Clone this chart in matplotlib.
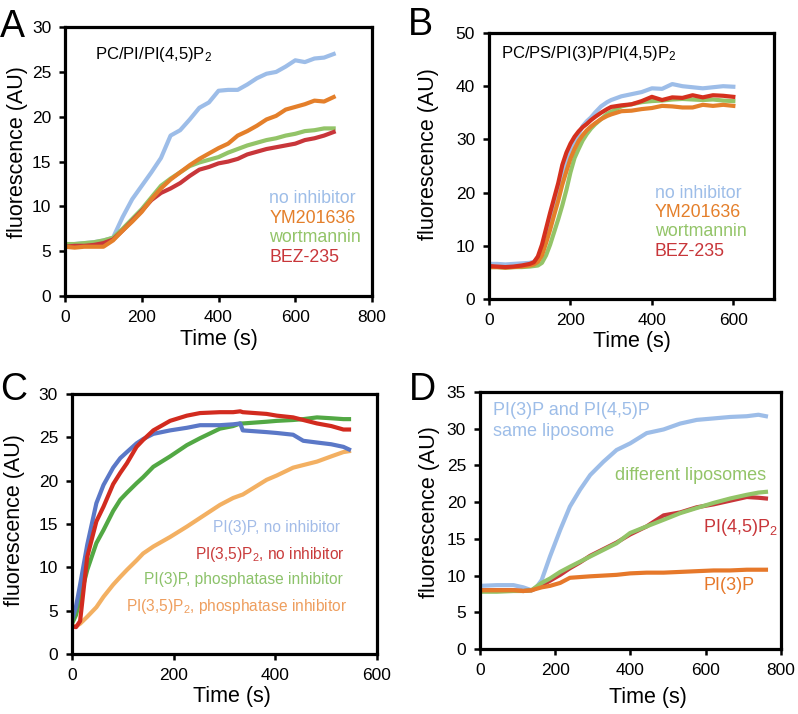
import matplotlib
matplotlib.use("Agg")
import matplotlib.pyplot as plt

plt.rcParams['font.family'] = ['Liberation Sans', 'DejaVu Sans']
plt.rcParams['mathtext.fontset'] = 'custom'
plt.rcParams['mathtext.rm'] = 'Liberation Sans'
plt.rcParams['mathtext.it'] = 'Liberation Sans:italic'
plt.rcParams['mathtext.bf'] = 'Liberation Sans:bold'

# ---------------- Panel A ----------------
a_time = [0, 25, 50, 75, 100, 125, 150, 175, 200, 225, 250, 275, 300, 325, 350,
          375, 400, 425, 450, 475, 500, 525, 550, 575, 600, 625, 650, 675, 700]
a_no_inhibitor = [5.7, 5.8, 5.9, 6.0, 6.2, 6.5, 8.8, 10.8, 12.3, 13.8, 15.4, 17.9, 18.5, 19.7, 21.0,
                  21.6, 22.9, 23.0, 23.0, 23.6, 24.3, 24.8, 25.0, 25.6, 26.3, 26.1, 26.5, 26.6, 27.0]
a_ym201636 = [5.5, 5.4, 5.5, 5.5, 5.5, 6.2, 7.3, 8.3, 9.4, 10.8, 12.0, 13.0, 13.8, 14.6, 15.3,
              15.9, 16.5, 17.0, 17.9, 18.4, 19.0, 19.7, 20.1, 20.8, 21.1, 21.4, 21.8, 21.7, 22.2]
a_wortmannin = [5.8, 5.8, 5.9, 6.0, 6.2, 6.5, 7.5, 8.6, 9.7, 11.0, 12.3, 13.1, 13.8, 14.5, 14.9,
                15.2, 15.5, 16.0, 16.4, 16.8, 17.1, 17.4, 17.6, 17.9, 18.1, 18.4, 18.5, 18.7, 18.7]
a_bez235 = [5.5, 5.6, 5.6, 5.7, 5.9, 6.3, 7.3, 8.4, 9.5, 10.7, 11.5, 12.0, 12.6, 13.4, 14.1,
            14.4, 14.8, 15.0, 15.3, 15.8, 16.1, 16.4, 16.6, 16.8, 17.0, 17.4, 17.6, 17.9, 18.3]

# ---------------- Panel B ----------------
b_time = [0, 20, 40, 60, 80, 100, 110, 120, 130, 140, 150, 160, 170, 180, 190, 200, 210, 220,
          230, 240, 250, 260, 275, 290, 300, 325, 350, 375, 400, 425, 450, 475, 500, 525,
          550, 575, 600]
b_no_inhibitor = [6.6, 6.6, 6.5, 6.6, 6.7, 6.8, 7.0, 7.5, 9.0, 11.8, 14.8, 17.8, 20.5, 23.2, 25.8, 27.8, 29.5, 31.0,
                  32.5, 33.4, 34.1, 35.0, 36.2, 37.0, 37.4, 38.1, 38.5, 38.9, 39.6, 39.5, 40.4, 40.0, 39.8, 39.6,
                  39.8, 40.0, 39.9]
b_ym201636 = [6.0, 6.0, 5.9, 6.0, 6.1, 6.3, 6.5, 7.0, 8.2, 10.5, 13.0, 15.8, 18.5, 21.5, 24.0, 26.4, 28.2, 29.7,
              30.8, 31.7, 32.4, 33.0, 33.8, 34.4, 34.7, 35.3, 35.4, 35.7, 35.9, 36.3, 36.2, 36.0, 36.0, 36.5,
              36.3, 36.5, 36.3]
b_wortmannin = [6.0, 6.0, 5.9, 6.0, 6.0, 6.1, 6.2, 6.3, 6.8, 8.2, 10.2, 12.6, 15.0, 17.6, 20.5, 23.8, 26.5, 28.2,
                29.8, 31.0, 32.0, 32.8, 33.8, 34.8, 35.2, 36.2, 36.6, 37.0, 37.2, 37.3, 37.5, 37.6, 37.5, 37.4,
                37.5, 37.3, 37.2]
b_bez235 = [6.2, 6.1, 6.0, 6.1, 6.3, 6.6, 6.9, 8.0, 10.2, 13.2, 16.2, 19.0, 21.8, 25.2, 27.5, 29.2, 30.5, 31.5,
            32.3, 32.9, 33.6, 34.2, 35.0, 35.7, 36.1, 36.4, 36.6, 37.2, 38.0, 37.4, 37.9, 37.8, 38.3, 37.9,
            38.3, 38.2, 38.0]

# ---------------- Panel C ----------------
c_time = [0, 8, 16, 30, 48, 62, 81, 95, 108, 127, 140, 160, 193, 226, 252, 291, 317, 331,
          336, 383, 403, 435, 455, 482, 510, 534, 545]
c_pi3p_no_inh = [3.9, 5.5, 8.0, 12.6, 17.4, 19.5, 21.5, 22.6, 23.3, 24.3, 24.8, 25.4, 25.8, 26.1, 26.4, 26.4, 26.5, 26.6,
                 25.8, 25.6, 25.5, 25.3, 24.6, 24.4, 24.2, 23.9, 23.6]
c_pi35p2_no_inh = [3.2, 3.1, 3.8, 11.2, 15.3, 17.0, 19.6, 20.9, 22.0, 23.9, 24.7, 25.8, 26.9, 27.5, 27.8, 27.9, 27.9, 28.0,
                   27.9, 27.7, 27.5, 27.3, 27.0, 26.6, 26.3, 25.9, 25.9]
c_pi3p_phos_inh = [3.5, 4.5, 6.5, 9.7, 12.8, 14.3, 16.5, 17.8, 18.6, 19.7, 20.4, 21.6, 22.8, 24.1, 24.9, 26.0, 26.3, 26.6,
                   26.6, 26.8, 26.9, 27.0, 27.1, 27.3, 27.2, 27.1, 27.1]
c_pi35p2_phos_inh = [3.2, 3.2, 3.5, 4.3, 5.4, 6.6, 8.0, 8.9, 9.7, 10.8, 11.6, 12.4, 13.5, 14.7, 15.7, 17.2, 18.0, 18.3,
                     18.4, 20.1, 20.6, 21.5, 21.8, 22.2, 22.8, 23.3, 23.4]

# ---------------- Panel D ----------------
d_time = [0, 45, 89, 115, 137, 150, 164, 186, 213, 239, 266, 293, 328, 363, 399, 443, 488,
          532, 576, 621, 665, 709, 740, 760]
d_same_liposome = [8.6, 8.7, 8.7, 8.4, 8.0, 8.4, 9.4, 12.6, 16.2, 19.4, 21.7, 23.7, 25.5, 27.1, 28.0, 29.4, 29.9,
                   30.7, 31.2, 31.4, 31.6, 31.7, 31.9, 31.7]
d_different = [7.8, 7.8, 7.9, 7.9, 8.0, 8.5, 9.0, 9.6, 10.5, 11.2, 11.9, 12.6, 13.5, 14.4, 15.8, 16.7, 17.6,
               18.5, 19.2, 19.9, 20.5, 21.0, 21.3, 21.4]
d_pi45p2 = [8.0, 8.0, 8.0, 7.9, 8.0, 8.3, 8.7, 9.3, 10.1, 11.0, 11.8, 12.7, 13.6, 14.5, 15.6, 16.7, 18.2,
            18.6, 19.3, 19.7, 20.2, 20.7, 20.6, 20.5]
d_pi3p = [8.0, 8.0, 8.0, 7.9, 8.0, 8.2, 8.4, 8.6, 9.0, 9.7, 9.8, 9.9, 10.0, 10.1, 10.3, 10.4, 10.4,
          10.5, 10.6, 10.7, 10.7, 10.8, 10.8, 10.8]

BLUE = '#9DBDE8'
ORANGE = '#E47F2A'
GREEN = '#93C468'
RED = '#C8363A'
LW = 3.0

fig = plt.figure(figsize=(7.98, 7.14), dpi=100)


def style(ax, xlim, xticks, ylim, yticks):
    ax.set_xlim(*xlim)
    ax.set_ylim(*ylim)
    ax.set_xticks(xticks)
    ax.set_yticks(yticks)
    for s in ax.spines.values():
        s.set_linewidth(2.3)
        s.set_color('black')
    ax.tick_params(direction='out', length=4, width=1.8, labelsize=12.5, colors='black')
    ax.tick_params(axis='x', pad=6)
    ax.tick_params(axis='y', pad=6)


def labels(ax, xpos, ypos):
    ax.set_xlabel('Time (s)', fontsize=15.5, ha='center', va='center')
    ax.xaxis.set_label_coords(*xpos)
    ax.set_ylabel('fluorescence (AU)', fontsize=15.5, ha='center', va='center')
    ax.yaxis.set_label_coords(*ypos)


# Panel A
axA = fig.add_axes([0.0815, 0.5854, 0.3847, 0.3766])
axA.plot(a_time, a_no_inhibitor, color=BLUE, lw=LW)
axA.plot(a_time, a_wortmannin, color=GREEN, lw=LW)
axA.plot(a_time, a_bez235, color=RED, lw=LW)
axA.plot(a_time, a_ym201636, color=ORANGE, lw=LW)
style(axA, (0, 800), [0, 200, 400, 600, 800], (0, 30), [0, 5, 10, 15, 20, 25, 30])
labels(axA, (0.5, -0.163), (-0.156, 0.535))
axA.text(78, 26.9, r'PC/PI/PI(4,5)P$_2$', fontsize=12, va='center', ha='left')
for txt, yy, col in [('no inhibitor', 10.9, BLUE), ('YM201636', 8.7, ORANGE),
                     ('wortmannin', 6.5, GREEN), ('BEZ-235', 4.3, RED)]:
    axA.text(532, yy, txt, fontsize=12.8, color=col, va='center', ha='left')

# Panel B
B_RED = '#D5301E'
axB = fig.add_axes([0.6128, 0.5812, 0.3572, 0.3726])
axB.plot(b_time, b_no_inhibitor, color=BLUE, lw=LW)
axB.plot(b_time, b_wortmannin, color=GREEN, lw=LW)
axB.plot(b_time, b_ym201636, color=ORANGE, lw=LW)
axB.plot(b_time, b_bez235, color=B_RED, lw=LW)
style(axB, (0, 700), [0, 200, 400, 600], (0, 50), [0, 10, 20, 30, 40, 50])
labels(axB, (0.5, -0.158), (-0.214, 0.545))
axB.text(30, 46.2, r'PC/PS/PI(3)P/PI(4,5)P$_2$', fontsize=12, va='center', ha='left')
for txt, yy, col in [('no inhibitor', 19.9, BLUE), ('YM201636', 16.3, ORANGE),
                     ('wortmannin', 12.6, GREEN), ('BEZ-235', 9.0, RED)]:
    axB.text(407, yy, txt, fontsize=12.8, color=col, va='center', ha='left')

# Panel C
C_BLUE = '#5B78C7'
C_RED = '#D22B1F'
C_GREEN = '#52A844'
C_ORANGE = '#F3B062'
axC = fig.add_axes([0.0902, 0.0840, 0.3822, 0.3642])
axC.plot(c_time, c_pi35p2_phos_inh, color=C_ORANGE, lw=LW)
axC.plot(c_time, c_pi3p_phos_inh, color=C_GREEN, lw=LW)
axC.plot(c_time, c_pi3p_no_inh, color=C_BLUE, lw=LW)
axC.plot(c_time, c_pi35p2_no_inh, color=C_RED, lw=LW)
style(axC, (0, 600), [0, 200, 400, 600], (0, 30), [0, 5, 10, 15, 20, 25, 30])
labels(axC, (0.525, -0.165), (-0.19, 0.515))
for txt, xx, yy, col in [('PI(3)P, no inhibitor', 527, 14.6, '#A3BCE8'),
                         (r'PI(3,5)P$_2$, no inhibitor', 537, 11.5, '#C93B3B'),
                         ('PI(3)P, phosphatase inhibitor', 533, 8.6, '#8CC26A'),
                         (r'PI(3,5)P$_2$, phosphatase inhibitor', 541, 5.5, '#EE9E5E')]:
    axC.text(xx, yy, txt, fontsize=11.2, color=col, va='center', ha='right')

# Panel D
D_ORANGE = '#E6782A'
axD = fig.add_axes([0.6015, 0.0910, 0.3772, 0.3600])
axD.plot(d_time, d_same_liposome, color=BLUE, lw=LW)
axD.plot(d_time, d_pi45p2, color=RED, lw=LW)
axD.plot(d_time, d_different, color=GREEN, lw=LW)
axD.plot(d_time, d_pi3p, color=D_ORANGE, lw=LW)
style(axD, (0, 800), [0, 200, 400, 600, 800], (0, 35), [0, 5, 10, 15, 20, 25, 30, 35])
labels(axD, (0.557, -0.19), (-0.169, 0.533))
axD.text(35, 32.5, 'PI(3)P and PI(4,5)P', fontsize=13, color=BLUE, va='center', ha='left')
axD.text(35, 29.6, 'same liposome', fontsize=13, color=BLUE, va='center', ha='left')
axD.text(760, 23.6, 'different liposomes', fontsize=13, color=GREEN, va='center', ha='right')
axD.text(593, 16.6, r'PI(4,5)P$_2$', fontsize=13, color=RED, va='center', ha='left')
axD.text(593, 8.7, 'PI(3)P', fontsize=13, color=D_ORANGE, va='center', ha='left')

# Panel letters
for letter, x, y in [('A', 0.0, 0.948), ('B', 0.511, 0.951), ('C', 0.0, 0.4398), ('D', 0.513, 0.4398)]:
    fig.text(x, y, letter, fontsize=27, ha='left', va='baseline')

fig.savefig('out.png', dpi=100)
